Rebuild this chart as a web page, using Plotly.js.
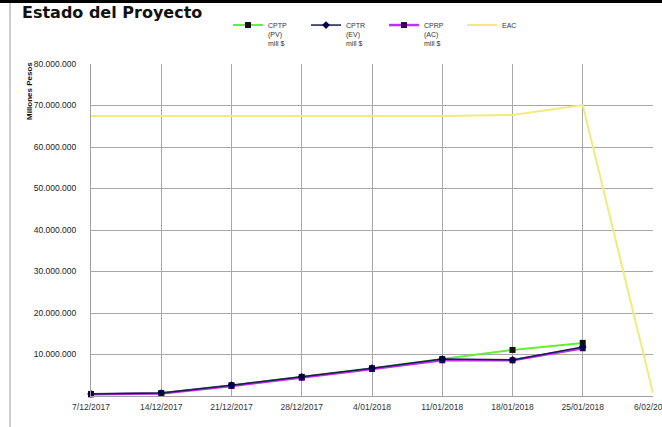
<!DOCTYPE html>
<html>
<head>
<meta charset="utf-8">
<script src="https://cdn.plot.ly/plotly-3.0.1.min.js"></script>
<style>html,body{margin:0;padding:0;background:#fff;}#chart{width:662px;height:427px;}</style>
</head>
<body>
<div id="chart"></div>
<script>
// Categories (dates)
var fechas = ["7/12/2017","14/12/2017","21/12/2017","28/12/2017","4/01/2018","11/01/2018","18/01/2018","25/01/2018","6/02/2018"];
// Series values (pesos)
var cptp = [500000, 700000, 2600000, 4600000, 6700000, 8900000, 11100000, 12800000, null];
var cptr = [500000, 700000, 2600000, 4600000, 6700000, 8900000, 8700000, 11800000, null];
var cprp = [400000, 600000, 2400000, 4400000, 6500000, 8600000, 8600000, 11500000, null];
var eac  = [67500000, 67500000, 67500000, 67500000, 67500000, 67500000, 67700000, 70100000, 700000];
// Y tick values
var yTicks = [10000000, 20000000, 30000000, 40000000, 50000000, 60000000, 70000000, 80000000];
// Legend labels
var nombres = ["CPTP<br>(PV)<br>mill $", "CPTR<br>(EV)<br>mill $", "CPRP<br>(AC)<br>mill $", "EAC<br>&nbsp;<br>&nbsp;"];

var L = 91, R = 9, T = 64, B = 31, W = 662, H = 427;
var pw = W - L - R, ph = H - T - B;
function px2x(p){ return (p - L) / pw; }
function py2y(p){ return (H - B - p) / ph; }

var traces = [
  {x: fechas, y: eac, name: nombres[3], type: 'scatter', mode: 'lines', legendrank: 4,
   line: {color: '#f2ea7a', width: 2}, cliponaxis: false},
  {x: fechas, y: cptp, name: nombres[0], type: 'scatter', mode: 'lines+markers', legendrank: 1,
   line: {color: '#66ee33', width: 2}, marker: {symbol: 'square', size: 6, color: '#111111'}, cliponaxis: false},
  {x: fechas, y: cprp, name: nombres[2], type: 'scatter', mode: 'lines+markers', legendrank: 3,
   line: {color: '#bb33ee', width: 2.5}, marker: {symbol: 'square', size: 6, color: '#330055'}, cliponaxis: false},
  {x: fechas, y: cptr, name: nombres[1], type: 'scatter', mode: 'lines+markers', legendrank: 2,
   line: {color: '#1a1a55', width: 1.5}, marker: {symbol: 'diamond', size: 6, color: '#000044'}, cliponaxis: false}
];

var layout = {
  width: W, height: H,
  margin: {l: L, r: R, t: T, b: B, pad: 0},
  paper_bgcolor: '#ffffff', plot_bgcolor: '#ffffff',
  separators: ',.',
  font: {family: 'Liberation Sans, Arial, sans-serif', size: 8.5, color: '#222222'},
  title: {text: 'Estado del Proyecto', font: {family: 'DejaVu Sans, sans-serif', size: 16, color: '#111111', weight: 'bold'},
          xref: 'container', yref: 'container', x: 22 / W, xanchor: 'left', y: 1 - 7 / H, yanchor: 'top'},
  showlegend: true,
  legend: {orientation: 'h', x: px2x(228), xanchor: 'left', y: py2y(14), yanchor: 'top',
           entrywidth: 33, entrywidthmode: 'pixels', valign: 'top', traceorder: 'normal',
           font: {size: 7, color: '#333333'}, bgcolor: 'rgba(0,0,0,0)', tracegroupgap: 0},
  xaxis: {type: 'category', categoryorder: 'array', categoryarray: fechas, range: [0, 8],
          showgrid: true, gridcolor: '#a8a8a8', gridwidth: 1, showline: true, linecolor: '#a0a0a0',
          ticks: '', tickfont: {size: 8.5, color: '#333333'}, ticklabelstandoff: 3, zeroline: false},
  yaxis: {range: [0, 80000000], tickvals: yTicks, tickformat: ',d', showgrid: true, gridcolor: '#a8a8a8', gridwidth: 1,
          showline: true, linecolor: '#a0a0a0', ticks: '', ticklabelstandoff: 12, zeroline: false,
          tickfont: {size: 8.5, color: '#222222'}},
  annotations: [
    {text: '<b>Millones Pesos</b>', textangle: -90, xref: 'paper', yref: 'paper', x: px2x(29), y: py2y(60),
     xanchor: 'center', yanchor: 'top', showarrow: false, font: {size: 8, color: '#111111'}}
  ],
  shapes: [
    {type: 'rect', xref: 'paper', yref: 'paper', x0: px2x(0), x1: px2x(W), y0: py2y(0), y1: py2y(3),
     fillcolor: '#000000', line: {width: 0}},
    {type: 'line', xref: 'paper', yref: 'paper', x0: px2x(10), x1: px2x(10), y0: py2y(3), y1: py2y(H),
     line: {color: '#9a9a9a', width: 1}}
  ]
};

Plotly.newPlot('chart', traces, layout, {displayModeBar: false, staticPlot: true});
</script>
</body>
</html>
